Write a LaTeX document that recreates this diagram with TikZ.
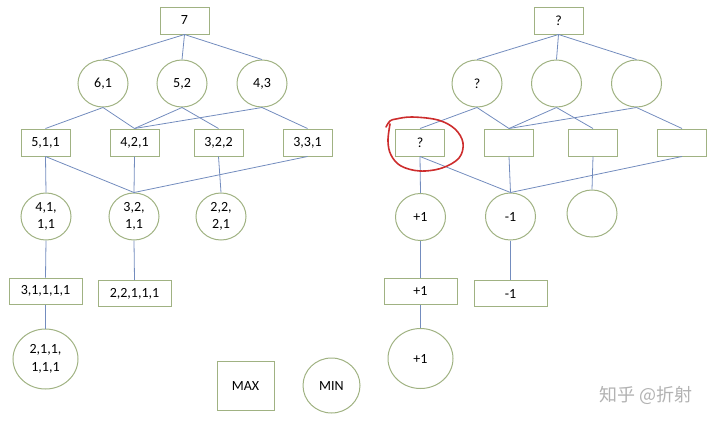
\documentclass[tikz,border=0pt]{standalone}
\usepackage{fontspec}
\setmainfont{Carlito}
\newfontfamily\cjk{Noto Sans CJK SC}
\usetikzlibrary{shapes.geometric}
\definecolor{boxc}{RGB}{160,178,130}
\definecolor{linec}{RGB}{115,140,190}
\definecolor{redc}{RGB}{205,45,45}
\definecolor{wmc}{RGB}{178,178,178}
\begin{document}
\begin{tikzpicture}[x=1pt,y=-1pt,
 maxbox/.style={draw=boxc,line width=1pt,minimum width=49pt,minimum height=27pt,inner sep=0pt,font=\fontsize{14}{17.5}\selectfont},
 wbox/.style={maxbox,minimum width=73pt,minimum height=26pt},
 minc/.style={draw=boxc,line width=1pt,ellipse,minimum width=50pt,minimum height=47pt,inner sep=0pt,align=center,font=\fontsize{14}{17.5}\selectfont},
 bigc/.style={minc,minimum width=65pt,minimum height=60pt},
 edge/.style={draw=linec,line width=0.8pt}]
\useasboundingbox (0,0) rectangle (720,424);
% ---------- left tree ----------
\node[maxbox] (L0) at (184.5,20.5) {7};
\node[minc] (L1a) at (103,83.5) {6,1};
\node[minc] (L1b) at (182,83.5) {5,2};
\node[minc] (L1c) at (262,83.5) {4,3};
\node[maxbox] (L2a) at (45.5,142.5) {5,1,1};
\node[maxbox] (L2b) at (134.5,142.5) {4,2,1};
\node[maxbox] (L2c) at (218.5,142.5) {3,2,2};
\node[maxbox] (L2d) at (307.5,142.5) {3,3,1};
\node[minc] (L3a) at (46,216.5) {4,1,\\1,1};
\node[minc] (L3b) at (134,216.5) {3,2,\\1,1};
\node[minc] (L3c) at (221,216.5) {2,2,\\2,1};
\node[wbox] (L4a) at (45.5,291) {3,1,1,1,1};
\node[wbox] (L4b) at (134.5,293.5) {2,2,1,1,1};
\node[bigc] (L5a) at (45.5,359) {2,1,1,\\1,1,1};
\draw[edge] (L0.south) -- (L1a.north);
\draw[edge] (L0.south) -- (L1b.north);
\draw[edge] (L0.south) -- (L1c.north);
\draw[edge] (L1a.south) -- (L2a.north);
\draw[edge] (L1a.south) -- (L2b.north);
\draw[edge] (L1b.south) -- (L2b.north);
\draw[edge] (L1b.south) -- (L2c.north);
\draw[edge] (L1c.south) -- (L2b.north);
\draw[edge] (L1c.south) -- (L2d.north);
\draw[edge] (L2a.south) -- (L3a.north);
\draw[edge] (L2a.south) -- (L3b.north);
\draw[edge] (L2b.south) -- (L3b.north);
\draw[edge] (L2d.south) -- (L3b.north);
\draw[edge] (L2c.south) -- (L3c.north);
\draw[edge] (L3a.south) -- (L4a.north);
\draw[edge] (L3b.south) -- (L4b.north);
\draw[edge] (L4a.south) -- (L5a.north);
% ---------- legend ----------
\node[maxbox,minimum width=57pt,minimum height=49pt] (MAX) at (245.5,385.5) {MAX};
\node[minc,minimum width=57pt,minimum height=55pt] (MIN) at (331.5,385.5) {MIN};
% ---------- right tree ----------
\node[maxbox] (R0) at (558.5,20.5) {?};
\node[minc] (R1a) at (477,83.5) {?};
\node[minc] (R1b) at (556.5,83.5) {};
\node[minc] (R1c) at (636.5,83.5) {};
\node[maxbox] (R2a) at (420,142.5) {?};
\node[maxbox] (R2b) at (509,142.5) {};
\node[maxbox] (R2c) at (593,142.5) {};
\node[maxbox] (R2d) at (682,142.5) {};
\node[minc] (R3a) at (420.5,217) {+1};
\node[minc] (R3b) at (510.5,216.5) {-1};
\node[minc] (R3c) at (592,213.5) {};
\node[wbox] (R4a) at (420.5,291) {+1};
\node[wbox] (R4b) at (510.5,293.5) {-1};
\node[bigc] (R5a) at (420.5,358.5) {+1};
\draw[edge] (R0.south) -- (R1a.north);
\draw[edge] (R0.south) -- (R1b.north);
\draw[edge] (R0.south) -- (R1c.north);
\draw[edge] (R1a.south) -- (R2a.north);
\draw[edge] (R1a.south) -- (R2b.north);
\draw[edge] (R1b.south) -- (R2b.north);
\draw[edge] (R1b.south) -- (R2c.north);
\draw[edge] (R1c.south) -- (R2b.north);
\draw[edge] (R1c.south) -- (R2d.north);
\draw[edge] (R2a.south) -- (R3a.north);
\draw[edge] (R2a.south) -- (R3b.north);
\draw[edge] (R2b.south) -- (R3b.north);
\draw[edge] (R2d.south) -- (R3b.north);
\draw[edge] (R2c.south) -- (R3c.north);
\draw[edge] (R3a.south) -- (R4a.north);
\draw[edge] (R3b.south) -- (R4b.north);
\draw[edge] (R4a.south) -- (R5a.north);
% ---------- red freehand mark ----------
\draw[redc,line width=1.6pt,line cap=round,line join=round]
  plot[smooth,tension=0.6] coordinates {(386,127) (390,121) (396,119) (412,117) (438,120) (455,129) (463,143) (459,158) (442,168) (420,171) (401,166) (391,155) (388,141) (390,124)};
% ---------- watermark ----------
\node[text=wmc,font=\cjk\fontsize{18}{20}\selectfont,inner sep=0pt] (WM) at (646,395) {知乎 @折射};
\end{tikzpicture}
\end{document}
